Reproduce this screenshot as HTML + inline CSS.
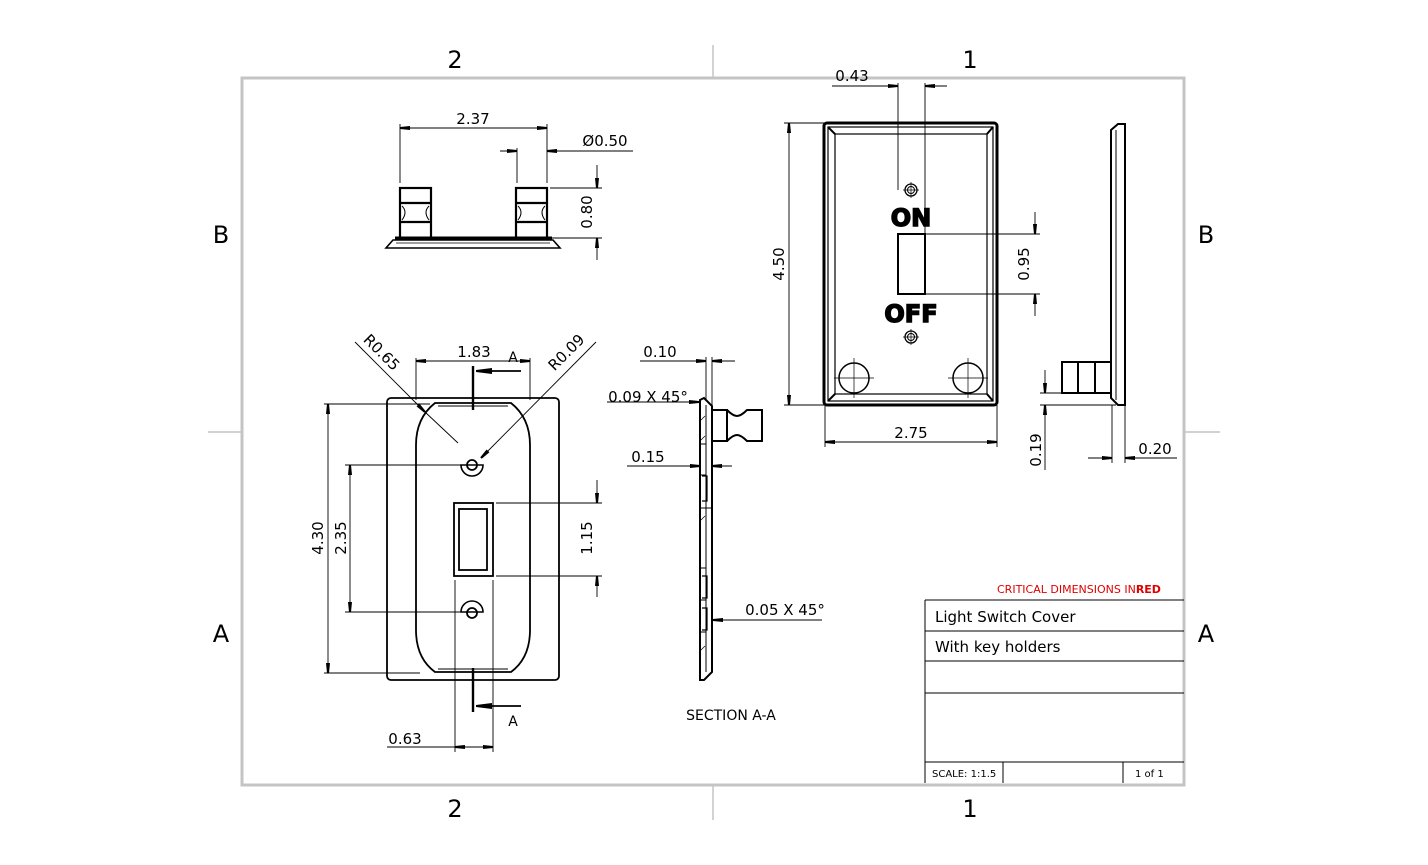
<!DOCTYPE html>
<html><head><meta charset="utf-8"><style>
html,body{margin:0;padding:0;background:#fff}
svg{display:block}
text{font-family:"DejaVu Sans","Liberation Sans",sans-serif;fill:#000}
</style></head><body>
<svg width="1428" height="865" viewBox="0 0 1428 865" xmlns="http://www.w3.org/2000/svg">
<defs>
<marker id="a" viewBox="0 0 10 6" refX="10" refY="3" markerWidth="10" markerHeight="6" orient="auto-start-reverse" markerUnits="userSpaceOnUse"><path d="M0,1 L10,2 L10,4 L0,5 Z" fill="#000"/></marker>
<marker id="b" viewBox="0 0 16 8" refX="16" refY="4" markerWidth="16" markerHeight="8" orient="auto" markerUnits="userSpaceOnUse"><path d="M0,1 L16,3 L16,5 L0,7 Z" fill="#000"/></marker>
</defs>
<rect x="242" y="78" width="942" height="707" fill="none" stroke="#c4c4c4" stroke-width="3"/>
<g stroke="#c4c4c4" stroke-width="1.5">
<line x1="713" y1="45" x2="713" y2="78"/><line x1="713" y1="785" x2="713" y2="820"/>
<line x1="208" y1="432" x2="242" y2="432"/><line x1="1184" y1="432" x2="1220" y2="432"/>
</g>
<g font-size="24" text-anchor="middle" style="font-family:'Liberation Sans',sans-serif">
<text x="455" y="68">2</text><text x="970" y="68">1</text>
<text x="455" y="817">2</text><text x="970" y="817">1</text>
<text x="221" y="243">B</text><text x="221" y="642">A</text>
<text x="1206" y="243">B</text><text x="1206" y="642">A</text>
</g>

<g fill="none" stroke="#000">
<g stroke-width="2.2">
<rect x="400" y="188" width="31" height="50"/><line x1="400" y1="203" x2="431" y2="203"/><line x1="400" y1="222" x2="431" y2="222"/>
<rect x="516" y="188" width="31" height="50"/><line x1="516" y1="203" x2="547" y2="203"/><line x1="516" y1="222" x2="547" y2="222"/>
<line x1="395" y1="238" x2="552" y2="238" stroke-width="3"/>
</g>
<path d="M402,206 q6,6 0,14 M429,206 q-6,6 0,14 M518,206 q6,6 0,14 M545,206 q-6,6 0,14" stroke-width="1"/>
<path d="M393,240 L553,240 L560,248 L386,248 Z" stroke-width="1.6"/>
<line x1="396" y1="243" x2="550" y2="243" stroke-width="0.8"/>

<rect x="387" y="398" width="172" height="282" rx="4" stroke-width="1.8"/>
<path d="M435,403 L511,403 Q530,418 530,445 L530,630 Q530,658 511,672 L435,672 Q416,658 416,630 L416,445 Q416,418 435,403 Z" stroke-width="1.8"/>
<path d="M438,406 L508,406 M438,669 L508,669" stroke-width="1"/>
<rect x="454" y="503" width="39" height="73" stroke-width="1.8"/>
<rect x="459" y="509" width="28" height="61" stroke-width="1.8"/>
<circle cx="472" cy="465" r="5" stroke-width="1.8"/><path d="M461,465 A11,11 0 0 0 483,465 Z" stroke-width="1.6"/>
<circle cx="472" cy="613" r="5" stroke-width="1.8"/><path d="M461,612 A11,11 0 0 1 483,612 Z" stroke-width="1.6"/>
<g stroke-width="2.4"><line x1="473" y1="366" x2="473" y2="410"/><line x1="473" y1="668" x2="473" y2="712"/></g>
<g stroke-width="1.8"><line x1="521" y1="371" x2="476" y2="371" marker-end="url(#b)"/><line x1="521" y1="706" x2="476" y2="706" marker-end="url(#b)"/></g>

<path d="M700,400 L704,398 L712,406 L712,672 L704,680 L700,680 Z" stroke-width="2"/>
<path d="M706,405 L706,672" stroke-width="1"/>
<path d="M700,444 L706,444 M700,475 L706,475 M700,508 L712,508 M700,568 L706,568 M700,600 L706,600 M700,632 L706,632" stroke-width="1"/>
<path d="M702,476 h5 v25 h-5 M702,576 h5 v22 h-5 M702,608 h5 v22 h-5" stroke-width="1.2"/>
<path d="M712,410 h15 v31 h-15 M727,410 q6,6 10,6 q4,0 10,-6 h15 v31 h-15 q-6,-6 -10,-6 q-4,0 -10,6" stroke-width="2"/>
<path d="M701,420 l4,-4 M701,440 l4,-4 M701,520 l4,-4 M701,650 l4,-4" stroke-width="0.7"/>

<rect x="824" y="123" width="173" height="282" rx="3" stroke-width="3"/>
<rect x="828" y="127" width="165" height="274" stroke-width="1.2"/>
<rect x="835" y="134" width="152" height="260" stroke-width="1.2"/>
<path d="M828,127 L835,134 M993,127 L987,134 M828,401 L835,394 M993,401 L987,394" stroke-width="2"/>
<circle cx="911" cy="190" r="6" stroke-width="1.3"/><circle cx="911" cy="190" r="3.5" stroke-width="1"/>
<circle cx="911" cy="337" r="6" stroke-width="1.3"/><circle cx="911" cy="337" r="3.5" stroke-width="1"/>
<path d="M903,190 h16 M911,182 v16 M903,337 h16 M911,329 v16" stroke-width="0.7"/>
<rect x="898" y="234" width="27" height="60" stroke-width="2"/>
<circle cx="854" cy="378" r="15" stroke-width="1.5"/><circle cx="968" cy="378" r="15" stroke-width="1.5"/>
<path d="M834,378 h40 M854,358 v40 M948,378 h40 M968,358 v40" stroke-width="0.7"/>
<path d="M1111,130 L1118,124 L1125,124 L1125,405 L1118,405 L1111,398 Z" stroke-width="2"/>
<line x1="1116" y1="130" x2="1116" y2="400" stroke-width="1"/>
<path d="M1111,362 h-49 v31 h49 M1078,362 v31 M1095,362 v31" stroke-width="2"/>
</g>

<g font-size="24" font-weight="bold" text-anchor="middle" style="font-family:'Liberation Sans',sans-serif;fill:#fff;stroke:#000;stroke-width:1.4">
<text x="911" y="226">ON</text><text x="911" y="322">OFF</text>
</g>

<g stroke="#000" stroke-width="0.9" fill="none">
<path d="M400,183 V124 M547,183 V124 M517,183 V148 M550,188 H602 M550,238 H602"/>
<line x1="400" y1="128" x2="547" y2="128" marker-start="url(#a)" marker-end="url(#a)"/>
<line x1="633" y1="151" x2="547" y2="151" marker-end="url(#a)"/><line x1="500" y1="151" x2="517" y2="151" marker-end="url(#a)"/>
<line x1="597" y1="165" x2="597" y2="188" marker-end="url(#a)"/><line x1="597" y1="260" x2="597" y2="238" marker-end="url(#a)"/>
<path d="M416,400 V358 M530,400 V358 M324,404 H430 M324,673 H420 M345,465 H466 M345,612 H466 M496,503 H602 M496,576 H602 M455,580 V752 M493,580 V752"/>
<line x1="416" y1="361" x2="530" y2="361" marker-start="url(#a)" marker-end="url(#a)"/>
<line x1="328" y1="404" x2="328" y2="673" marker-start="url(#a)" marker-end="url(#a)"/>
<line x1="350" y1="465" x2="350" y2="612" marker-start="url(#a)" marker-end="url(#a)"/>
<line x1="597" y1="480" x2="597" y2="503" marker-end="url(#a)"/><line x1="597" y1="597" x2="597" y2="576" marker-end="url(#a)"/>
<line x1="387" y1="747" x2="493" y2="747" marker-end="url(#a)"/><line x1="478" y1="747" x2="455" y2="747" marker-end="url(#a)"/>
<line x1="355" y1="342" x2="425" y2="412" marker-end="url(#a)"/><line x1="425" y1="412" x2="458" y2="443"/>
<line x1="596" y1="342" x2="481" y2="458" marker-end="url(#a)"/>
<path d="M706,357 V400 M712,357 V406"/>
<line x1="640" y1="361" x2="706" y2="361" marker-end="url(#a)"/><line x1="735" y1="361" x2="712" y2="361" marker-end="url(#a)"/>
<line x1="607" y1="402" x2="699" y2="402" marker-end="url(#a)"/>
<line x1="627" y1="466" x2="700" y2="466" marker-end="url(#a)"/><line x1="732" y1="466" x2="712" y2="466" marker-end="url(#a)"/>
<line x1="822" y1="620" x2="713" y2="620" marker-end="url(#a)"/>
<path d="M898,83 V190 M925,83 V234 M784,123 H826 M784,405 H826 M925,234 H1040 M925,294 H1040 M825,405 V447 M997,405 V447"/>
<line x1="832" y1="86" x2="898" y2="86" marker-end="url(#a)"/><line x1="947" y1="86" x2="925" y2="86" marker-end="url(#a)"/>
<line x1="789" y1="123" x2="789" y2="405" marker-start="url(#a)" marker-end="url(#a)"/>
<line x1="1035" y1="212" x2="1035" y2="234" marker-end="url(#a)"/><line x1="1035" y1="316" x2="1035" y2="294" marker-end="url(#a)"/>
<line x1="825" y1="442" x2="997" y2="442" marker-start="url(#a)" marker-end="url(#a)"/>
<path d="M1040,393 H1111 M1040,405 H1116 M1112,405 V463 M1125,405 V463"/>
<line x1="1045" y1="370" x2="1045" y2="393" marker-end="url(#a)"/><line x1="1045" y1="470" x2="1045" y2="405" marker-end="url(#a)"/>
<line x1="1088" y1="458" x2="1112" y2="458" marker-end="url(#a)"/><line x1="1177" y1="458" x2="1125" y2="458" marker-end="url(#a)"/>
</g>

<g font-size="15" text-anchor="middle">
<text x="473" y="124">2.37</text>
<text x="605" y="146">Ø0.50</text>
<text transform="translate(592,212) rotate(-90)">0.80</text>
<text x="474" y="357">1.83</text>
<text x="513" y="362" font-size="14">A</text>
<text x="513" y="726" font-size="14">A</text>
<text transform="translate(323,538) rotate(-90)">4.30</text>
<text transform="translate(346,538) rotate(-90)">2.35</text>
<text transform="translate(592,538) rotate(-90)">1.15</text>
<text x="405" y="744">0.63</text>
<text transform="translate(378,356) rotate(45)">R0.65</text>
<text transform="translate(570,356) rotate(-45)">R0.09</text>
<text x="660" y="357">0.10</text>
<text x="648" y="402">0.09 X 45°</text>
<text x="648" y="462">0.15</text>
<text x="785" y="615">0.05 X 45°</text>
<text x="731" y="720" font-size="14">SECTION A-A</text>
<text x="852" y="81">0.43</text>
<text transform="translate(784,264) rotate(-90)">4.50</text>
<text transform="translate(1029,264) rotate(-90)">0.95</text>
<text x="911" y="438">2.75</text>
<text transform="translate(1041,450) rotate(-90)">0.19</text>
<text x="1155" y="454">0.20</text>
</g>

<g stroke="#000" stroke-width="1" fill="none">
<path d="M925,600 H1184 M925,600 V783 M925,631 H1184 M925,661 H1184 M925,693 H1184 M925,762 H1184 M1003,762 V783 M1123,762 V783"/>
</g>
<text x="997" y="593" font-size="11" style="fill:#e00000">CRITICAL DIMENSIONS IN<tspan font-weight="bold" style="fill:#e00000">RED</tspan></text>
<text x="935" y="622" font-size="15">Light Switch Cover</text>
<text x="935" y="652" font-size="15">With key holders</text>
<text x="932" y="777" font-size="10">SCALE: 1:1.5</text>
<text x="1135" y="777" font-size="10">1 of 1</text>
</svg>
</body></html>
